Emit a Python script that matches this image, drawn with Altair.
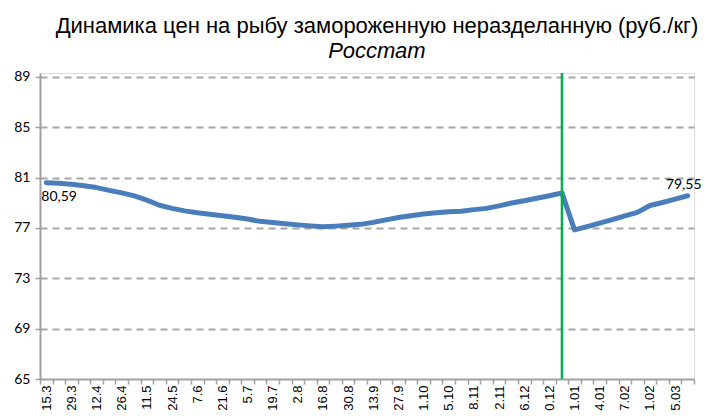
import altair as alt
import pandas as pd

# ---- data ----
prices = [
    80.59, 80.55, 80.47, 80.35, 80.20, 79.98, 79.78, 79.54, 79.20, 78.80,
    78.55, 78.35, 78.20, 78.08, 77.97, 77.85, 77.70, 77.52, 77.42, 77.33,
    77.24, 77.16, 77.10, 77.14, 77.20, 77.28, 77.44, 77.64, 77.82, 77.96,
    78.10, 78.20, 78.28, 78.32, 78.45, 78.55, 78.75, 78.98, 79.15, 79.35,
    79.55, 79.78, 76.84, 77.10, 77.38, 77.65, 77.95, 78.23, 78.78, 79.02,
    79.28, 79.55,
]
# tick labels as they are visible in the (bottom-cropped) reference
tick_labels = [
    "15.3", "29.3", "12.4", "26.4", "11.5", "24.5", "7.6", "21.6", "5.7",
    "19.7", "2.8", "16.8", "30.8", "13.9", "27.9", "1.10", "5.10", "8.11",
    "2.11", "6.12", "0.12", "1.01", "4.01", "7.02", "1.02", "5.03",
]
y_ticks = [65, 69, 73, 77, 81, 85, 89]
year_break_week = 41
title_text = "Динамика цен на рыбу замороженную неразделанную (руб./кг)"
subtitle_text = "Росстат"

# ---- tables ----
n = len(prices)
df = pd.DataFrame({"pos": [i + 0.5 for i in range(n)], "price": prices})
first = df.iloc[[0]].copy()
last = df.iloc[[n - 1]].copy()
brk = pd.DataFrame({"pos": [year_break_week + 0.5], "price": [prices[year_break_week]]})

arr = "[" + ",".join("'" + s + "'" for s in tick_labels) + "]"
label_expr = f"datum.value % 2 == 0.5 ? {arr}[floor(datum.value / 2)] : ''"
x_values = [k / 2 for k in range(0, 2 * n + 1)]

x_scale = alt.Scale(domain=[0, n], nice=False, zero=False)
y_scale = alt.Scale(domain=[65, 89.3], nice=False, zero=False)

x_axis = alt.Axis(
    values=x_values,
    labelExpr=label_expr,
    labelAngle=270,
    labelAlign="right",
    labelBaseline="middle",
    labelFont="Liberation Sans",
    labelFontSize=13,
    labelColor="#000000",
    labelPadding=1,
    labelOverlap=False,
    labelFlush=False,
    grid=False,
    domainColor="#a0a0a0",
    domainWidth=2,
    tickColor="#a0a0a0",
    tickWidth=1.5,
    tickSize=5,
    tickOpacity={"condition": {"test": "datum.value % 1 == 0", "value": 1}, "value": 0},
    title=None,
)
y_axis = alt.Axis(
    values=y_ticks,
    grid=True,
    gridColor="#a6a6a6",
    gridDash=[7, 5],
    gridWidth=2,
    gridOpacity={"condition": {"test": "datum.value == 65", "value": 0}, "value": 1},
    domainColor="#a0a0a0",
    domainWidth=2,
    tickColor="#a0a0a0",
    tickWidth=1.5,
    tickSize=5,
    labelFont="Lato",
    labelFontSize=14,
    labelColor="#000000",
    labelPadding=5,
    title=None,
)

X = alt.X("pos:Q", scale=x_scale, axis=x_axis)
Y = alt.Y("price:Q", scale=y_scale, axis=y_axis)

line = alt.Chart(df).mark_line(
    color="#4a7ebb", strokeWidth=5, strokeCap="round", strokeJoin="round"
).encode(x=X, y=Y)

rule = alt.Chart(brk).mark_rule(color="#00b050", strokeWidth=2.5).encode(x=X)

label_calc = "replace(format(datum.price, '.2f'), '.', ',')"
lbl_first = alt.Chart(first).transform_calculate(t=label_calc).mark_text(
    align="left", baseline="middle", dx=-5, dy=14, font="Lato", fontSize=14, color="#000000"
).encode(x=X, y=Y, text="t:N")

lbl_last = alt.Chart(last).transform_calculate(t=label_calc).mark_text(
    align="center", baseline="middle", dx=-4, dy=-11, font="Lato", fontSize=14, color="#000000"
).encode(x=X, y=Y, text="t:N")

chart = alt.layer(line, rule, lbl_first, lbl_last).properties(
    width=654,
    height=306,
    padding={"left": 32, "top": 65, "right": 17, "bottom": 32},
    autosize=alt.AutoSizeParams(type="none"),
    title=alt.TitleParams(
        text=title_text,
        subtitle=subtitle_text,
        font="Liberation Sans",
        fontSize=22,
        fontWeight="normal",
        color="#000000",
        subtitleFont="Liberation Sans",
        subtitleFontSize=22,
        subtitleFontStyle="italic",
        subtitleColor="#000000",
        subtitlePadding=3,
        anchor="middle",
        offset=7,
        dx=10,
    ),
).configure_view(stroke=None).configure(background="white")

chart.save("out.html", embed_options={"renderer": "svg", "actions": False})
